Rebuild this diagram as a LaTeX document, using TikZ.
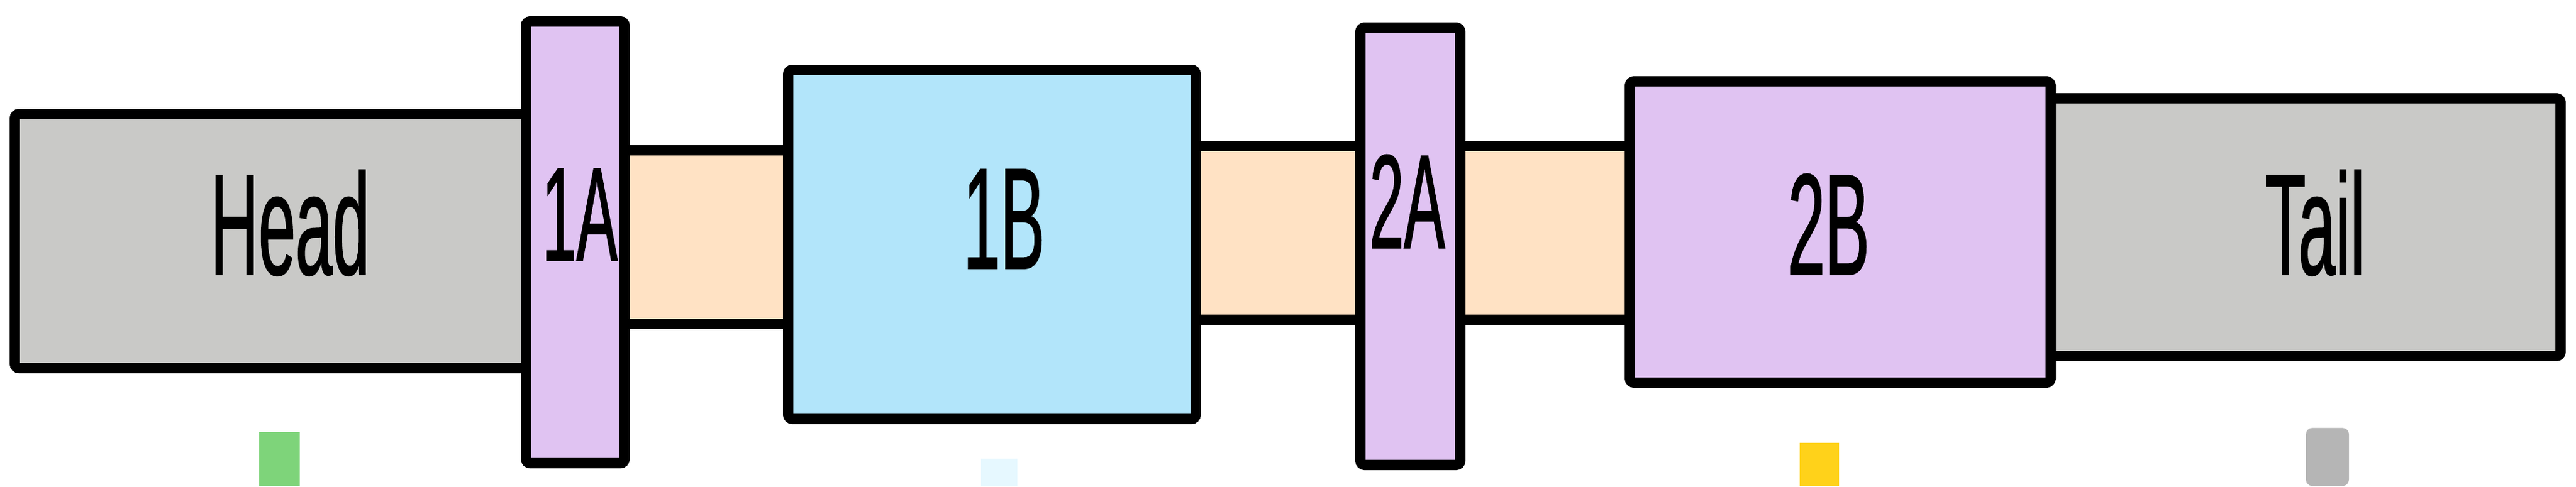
\documentclass[tikz,border=0pt]{standalone}
\usepackage{fontspec}
\setmainfont{Liberation Sans}
\newfontfamily\partfont[FakeStretch=0.46, FakeBold=0.7]{Liberation Sans}
\definecolor{endgray}{HTML}{C9C9C7}
\definecolor{lilac}{HTML}{E0C3F2}
\definecolor{skyblue}{HTML}{B2E5FA}
\definecolor{peach}{HTML}{FFE2C4}
\definecolor{markgreen}{HTML}{7ED47A}
\definecolor{markyellow}{HTML}{FFD21A}
\definecolor{markgray}{HTML}{B5B5B5}
\definecolor{markcyan}{HTML}{E6F8FF}
\begin{document}
\begin{tikzpicture}[
    part/.style={draw=black, line width=0.17cm, rounded corners=2pt, inner sep=0pt},
    linker/.style={part, fill=peach, rounded corners=0pt},
    lbl/.style={anchor=base, inner sep=0pt, font=\partfont\fontsize{68}{80}\selectfont},
    smalllbl/.style={lbl, font=\partfont\fontsize{63}{74}\selectfont},
    swatch/.style={inner sep=0pt, anchor=south}
]
    \useasboundingbox (0,0) rectangle (42.54,8.04);
    \fill[white] (0,0) rectangle (42.54,8.04);

    % Linkers between the domains
    \node[linker, minimum width=3.3cm, minimum height=2.87cm] (link1) at (11.65,4.12) {};
    \node[linker, minimum width=3.2cm, minimum height=2.87cm] (link2) at (21.1,4.19) {};
    \node[linker, minimum width=3.1cm, minimum height=2.87cm] (link3) at (25.55,4.19) {};

    % Head and tail
    \node[part, fill=endgray, minimum width=9.255cm, minimum height=4.20cm] (head) at (4.8725,4.055) {};
    \node[part, fill=endgray, minimum width=8.785cm, minimum height=4.26cm] (tail) at (37.8925,4.285) {};

    % Domains
    \node[part, fill=lilac, minimum width=1.63cm, minimum height=7.30cm] (d1a) at (9.50,4.035) {};
    \node[part, fill=skyblue, minimum width=6.73cm, minimum height=5.77cm] (d1b) at (16.38,4.0) {};
    \node[part, fill=lilac, minimum width=1.65cm, minimum height=7.23cm] (d2a) at (23.29,3.97) {};
    \node[part, fill=lilac, minimum width=6.95cm, minimum height=4.98cm] (d2b) at (30.39,4.205) {};

    % Labels
    \node[lbl] (headlbl) at (4.79,3.50) {Head};
    \node[smalllbl] (d1albl) at (9.575,3.73) {1A};
    \node[lbl] (d1blbl) at (16.58,3.60) {1B};
    \node[smalllbl] (d2albl) at (23.24,3.94) {2A};
    \node[lbl] (d2blbl) at (30.20,3.50) {2B};
    \node[lbl] (taillbl) at (38.23,3.50) {Tail};

    % Colour swatches cut off at the bottom
    \node[swatch, fill=markgreen, minimum width=0.67cm, minimum height=0.89cm] (swhead) at (4.615,0) {};
    \node[swatch, fill=markcyan, minimum width=0.6cm, minimum height=0.45cm] (sw1b) at (16.5,0) {};
    \node[swatch, fill=markyellow, minimum width=0.65cm, minimum height=0.71cm] (sw2b) at (30.045,0) {};
    \node[swatch, fill=markgray, minimum width=0.71cm, minimum height=0.96cm, rounded corners=3pt] (swtail) at (38.435,0) {};
\end{tikzpicture}
\end{document}
